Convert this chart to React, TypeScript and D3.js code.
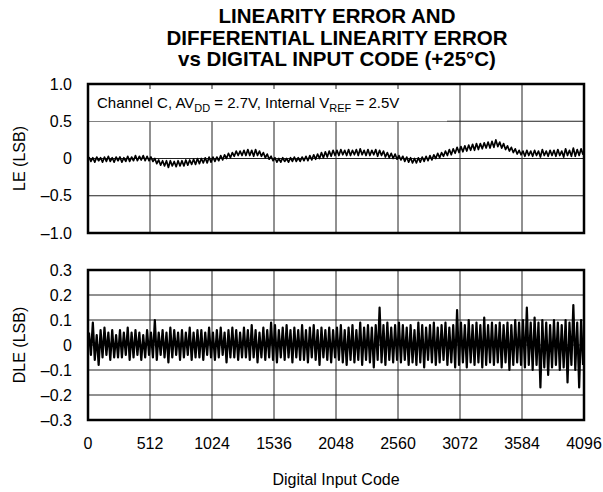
import React from "react";
import * as d3 from "d3";

// x axis: digital input code
const xTicks = [0, 512, 1024, 1536, 2048, 2560, 3072, 3584, 4096];
const codeStep = 16;

// y ticks for both panels
const leTicks = [1.0, 0.5, 0, -0.5, -1.0];
const dleTicks = [0.3, 0.2, 0.1, 0, -0.1, -0.2, -0.3];

// LE (LSB), one reading every 16 codes
const leValues = [
  0.02, -0.04, 0.01, -0.05, 0.02, -0.03, 0.01, -0.05, 0.02, -0.04, 0.03, -0.04, 0.01, -0.05, 0.02, -0.03,
  0.02, -0.05, 0.01, -0.04, 0.03, -0.04, 0.02, -0.03, 0.04, -0.03, 0.03, -0.02, 0.04, -0.03, 0.03, -0.03,
  0.02, -0.04, 0.0, -0.07, -0.02, -0.09, -0.03, -0.1, -0.03, -0.12, -0.03, -0.1, -0.04, -0.11, -0.03, -0.1,
  -0.03, -0.1, -0.02, -0.09, -0.02, -0.08, -0.01, -0.08, 0.0, -0.07, 0.0, -0.06, 0.01, -0.06, 0.02, -0.05,
  0.02, -0.04, 0.02, -0.03, 0.04, -0.02, 0.05, 0.0, 0.07, 0.01, 0.08, 0.03, 0.1, 0.04, 0.1, 0.04,
  0.11, 0.04, 0.12, 0.04, 0.11, 0.03, 0.12, 0.04, 0.1, 0.03, 0.08, 0.01, 0.06, -0.01, 0.03, -0.03,
  0.01, -0.05, 0.0, -0.05, 0.01, -0.04, 0.0, -0.05, 0.01, -0.04, 0.02, -0.04, 0.01, -0.04, 0.02, -0.03,
  0.03, -0.03, 0.04, -0.02, 0.05, -0.01, 0.06, 0.0, 0.08, 0.01, 0.09, 0.02, 0.1, 0.03, 0.11, 0.04,
  0.11, 0.04, 0.12, 0.05, 0.11, 0.04, 0.12, 0.04, 0.11, 0.05, 0.12, 0.04, 0.13, 0.05, 0.11, 0.04,
  0.12, 0.04, 0.11, 0.05, 0.12, 0.03, 0.11, 0.04, 0.1, 0.02, 0.08, 0.01, 0.07, 0.0, 0.06, -0.01,
  0.04, -0.02, 0.03, -0.04, 0.02, -0.05, 0.01, -0.06, 0.0, -0.06, 0.01, -0.05, 0.02, -0.04, 0.03, -0.03,
  0.04, -0.02, 0.05, 0.0, 0.07, 0.01, 0.08, 0.03, 0.1, 0.04, 0.12, 0.05, 0.13, 0.07, 0.15, 0.08,
  0.16, 0.09, 0.17, 0.1, 0.18, 0.11, 0.19, 0.11, 0.2, 0.12, 0.2, 0.13, 0.21, 0.14, 0.22, 0.14,
  0.23, 0.15, 0.25, 0.16, 0.22, 0.14, 0.2, 0.12, 0.17, 0.1, 0.15, 0.08, 0.13, 0.06, 0.11, 0.05,
  0.1, 0.03, 0.11, 0.04, 0.1, 0.03, 0.11, 0.04, 0.1, 0.02, 0.12, 0.04, 0.1, 0.03, 0.11, 0.04,
  0.11, 0.03, 0.12, 0.04, 0.1, 0.02, 0.13, 0.04, 0.11, 0.03, 0.14, 0.03, 0.12, 0.04, 0.13, 0.05,
];

// DLE (LSB), one reading every 16 codes
const dleValues = [
  0.05, -0.04, 0.09, -0.06, 0.04, -0.08, 0.06, -0.05, 0.07, -0.04, 0.05, -0.06, 0.06, -0.05, 0.04, -0.05,
  0.06, -0.05, 0.05, -0.04, 0.07, -0.06, 0.05, -0.05, 0.06, -0.04, 0.05, -0.06, 0.04, -0.05, 0.06, -0.04,
  0.05, -0.05, 0.1, -0.06, 0.05, -0.04, 0.06, -0.05, 0.05, -0.07, 0.07, -0.05, 0.06, -0.04, 0.05, -0.06,
  0.06, -0.05, 0.05, -0.04, 0.07, -0.06, 0.05, -0.05, 0.06, -0.05, 0.06, -0.06, 0.05, -0.04, 0.07, -0.05,
  0.05, -0.06, 0.06, -0.05, 0.07, -0.04, 0.05, -0.07, 0.06, -0.05, 0.07, -0.05, 0.06, -0.06, 0.05, -0.05,
  0.07, -0.05, 0.06, -0.06, 0.08, -0.05, 0.06, -0.07, 0.05, -0.05, 0.07, -0.06, 0.06, -0.05, 0.09, -0.06,
  0.08, -0.07, 0.06, -0.05, 0.07, -0.06, 0.08, -0.05, 0.06, -0.07, 0.07, -0.05, 0.06, -0.06, 0.08, -0.06,
  0.06, -0.07, 0.07, -0.05, 0.08, -0.06, 0.06, -0.08, 0.07, -0.05, 0.06, -0.06, 0.07, -0.07, 0.06, -0.05,
  0.07, -0.06, 0.08, -0.07, 0.06, -0.08, 0.07, -0.06, 0.08, -0.07, 0.06, -0.06, 0.09, -0.08, 0.07, -0.06,
  0.08, -0.07, 0.07, -0.09, 0.08, -0.06, 0.15, -0.07, 0.08, -0.08, 0.09, -0.06, 0.07, -0.07, 0.08, -0.06,
  0.09, -0.07, 0.08, -0.06, 0.07, -0.08, 0.08, -0.07, 0.06, -0.08, 0.09, -0.07, 0.08, -0.09, 0.07, -0.06,
  0.08, -0.07, 0.09, -0.08, 0.07, -0.07, 0.08, -0.06, 0.09, -0.08, 0.07, -0.07, 0.08, -0.09, 0.14, -0.08,
  0.09, -0.07, 0.08, -0.09, 0.1, -0.07, 0.08, -0.08, 0.09, -0.07, 0.08, -0.09, 0.11, -0.08, 0.08, -0.07,
  0.09, -0.08, 0.08, -0.07, 0.09, -0.09, 0.08, -0.07, 0.09, -0.1, 0.08, -0.08, 0.1, -0.07, 0.09, -0.08,
  0.1, -0.09, 0.15, -0.08, 0.09, -0.1, 0.11, -0.08, 0.09, -0.17, 0.1, -0.09, 0.09, -0.12, 0.08, -0.09,
  0.1, -0.08, 0.09, -0.1, 0.08, -0.09, 0.1, -0.15, 0.09, -0.08, 0.16, -0.1, 0.09, -0.17, 0.1, -0.08,
];

const FONT = "'Liberation Sans', Arial, Helvetica, sans-serif";

export default function App() {
  const width = 603;
  const height = 492;
  const x = d3.scaleLinear().domain([0, 4096]).range([88, 584]);
  const yLE = d3.scaleLinear().domain([-1, 1]).range([233, 84]);
  const yDLE = d3.scaleLinear().domain([-0.3, 0.3]).range([420, 270]);

  const leLine = d3
    .line<number>()
    .x((d, i) => x(i * codeStep + 8))
    .y((d) => yLE(d));
  const dleLine = d3
    .line<number>()
    .x((d, i) => x(i * codeStep + 8))
    .y((d) => yDLE(d));

  const panel = (
    y: d3.ScaleLinear<number, number>,
    ticks: number[],
    fmt: (v: number) => string
  ) => {
    const [top, bottom] = [y(ticks[0]), y(ticks[ticks.length - 1])];
    return (
      <g>
        {xTicks.slice(1, -1).map((t) => (
          <line key={"v" + t} x1={x(t)} x2={x(t)} y1={top} y2={bottom} stroke="#222" strokeWidth={1} />
        ))}
        {ticks.slice(1, -1).map((t) => (
          <line key={"h" + t} x1={x(0)} x2={x(4096)} y1={y(t)} y2={y(t)} stroke="#222" strokeWidth={1} />
        ))}
        {ticks.map((t) => (
          <text key={"l" + t} x={72} y={y(t)} textAnchor="end" dominantBaseline="central" fontSize={16}>
            {fmt(t)}
          </text>
        ))}
      </g>
    );
  };

  const fmt = (v: number) => (v === 0 ? "0" : (v < 0 ? "\u2013" : "") + Math.abs(v).toFixed(1));

  return (
    <svg
      width={width}
      height={height}
      style={{ position: "absolute", left: 0, top: 0, background: "#fff" }}
      fontFamily={FONT}
    >
      <rect width={width} height={height} fill="#fff" />
      {/* title */}
      <g fontWeight="bold" fontSize={20.5} textAnchor="middle">
        <text x={337} y={23}>LINEARITY ERROR AND</text>
        <text x={337} y={44.5}>DIFFERENTIAL LINEARITY ERROR</text>
        <text x={337} y={66}>vs DIGITAL INPUT CODE (+25°C)</text>
      </g>

      {/* LE panel */}
      {panel(yLE, leTicks, fmt)}
      <rect x={x(0) + 1} y={yLE(1) + 5} width={358} height={yLE(0.5) - yLE(1) - 5} fill="#fff" />
      <text x={97} y={108} fontSize={15}>
        Channel C, AV
        <tspan fontSize={11} dy={4}>DD</tspan>
        <tspan dy={-4}> = 2.7V, Internal V</tspan>
        <tspan fontSize={11} dy={4}>REF</tspan>
        <tspan dy={-4}> = 2.5V</tspan>
      </text>
      <path d={leLine(leValues) || ""} fill="none" stroke="#000" strokeWidth={1.7} strokeLinejoin="round" />
      <rect x={x(0)} y={yLE(1)} width={x(4096) - x(0)} height={yLE(-1) - yLE(1)} fill="none" stroke="#000" strokeWidth={2.5} />
      <text transform={`translate(19,${yLE(0)}) rotate(-90)`} textAnchor="middle" dominantBaseline="central" fontSize={16}>
        LE (LSB)
      </text>

      {/* DLE panel */}
      {panel(yDLE, dleTicks, fmt)}
      <path d={dleLine(dleValues) || ""} fill="none" stroke="#000" strokeWidth={2.2} strokeLinejoin="round" />
      <rect x={x(0)} y={yDLE(0.3)} width={x(4096) - x(0)} height={yDLE(-0.3) - yDLE(0.3)} fill="none" stroke="#000" strokeWidth={2.5} />
      <text transform={`translate(19,${yDLE(0)}) rotate(-90)`} textAnchor="middle" dominantBaseline="central" fontSize={16}>
        DLE (LSB)
      </text>

      {/* x axis */}
      {xTicks.map((t) => (
        <text key={"x" + t} x={x(t)} y={449} textAnchor="middle" fontSize={16}>
          {t}
        </text>
      ))}
      <text x={336} y={485} textAnchor="middle" fontSize={16}>
        Digital Input Code
      </text>
    </svg>
  );
}
